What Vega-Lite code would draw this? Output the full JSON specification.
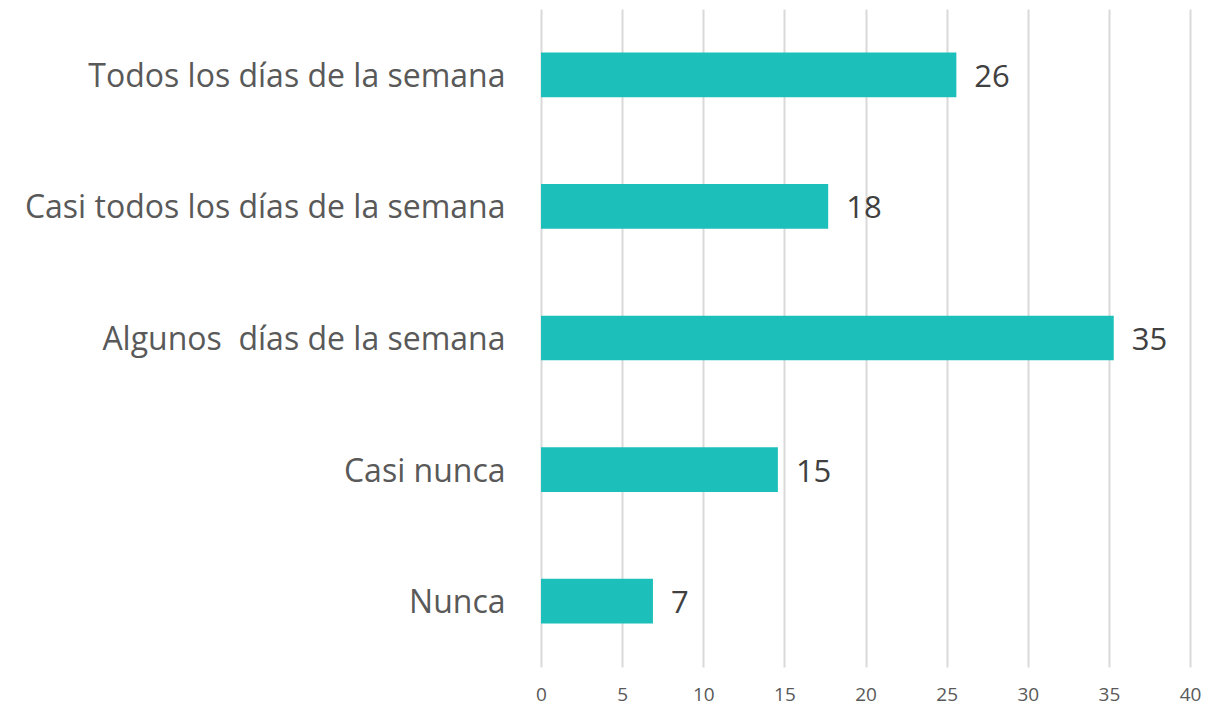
{
  "$schema": "https://vega.github.io/schema/vega-lite/v6.json",
  "autosize": "none",
  "padding": {"left": 541, "top": 9, "right": 42, "bottom": 43},
  "width": 649,
  "height": 658,
  "background": "white",
  "data": {"values": [
    {"categoria": "Todos los días de la semana", "valor": 25.6, "etiqueta": "26"},
    {"categoria": "Casi todos los días de la semana", "valor": 17.7, "etiqueta": "18"},
    {"categoria": "Algunos\u00a0 días de la semana", "valor": 35.3, "etiqueta": "35"},
    {"categoria": "Casi nunca", "valor": 14.6, "etiqueta": "15"},
    {"categoria": "Nunca", "valor": 6.9, "etiqueta": "7"}
  ]},
  "encoding": {
    "y": {"field": "categoria", "type": "nominal", "sort": null,
      "scale": {"paddingInner": 0.66, "paddingOuter": 0.33},
      "axis": {"title": null, "domain": false, "ticks": false, "labelFontSize": 32, "labelFont": "Open Sans", "labelColor": "#595959", "labelPadding": 36, "labelOffset": 2, "labelLimit": 600}},
    "x": {"field": "valor", "type": "quantitative",
      "scale": {"domain": [0, 40], "nice": false},
      "axis": {"title": null, "values": [0,5,10,15,20,25,30,35,40], "domain": false, "ticks": false, "grid": true, "gridColor": "#d9d9d9", "gridWidth": 2, "labelFlush": false, "labelFontSize": 19, "labelFont": "Open Sans", "labelColor": "#595959", "labelPadding": 18}}
  },
  "layer": [
    {"mark": {"type": "bar", "color": "#1dbfba"}},
    {"mark": {"type": "text", "align": "left", "dx": 18, "dy": 3, "fontSize": 31, "font": "Open Sans", "color": "#404040"},
     "encoding": {"text": {"field": "etiqueta"}}}
  ],
  "config": {"view": {"stroke": null}}
}
